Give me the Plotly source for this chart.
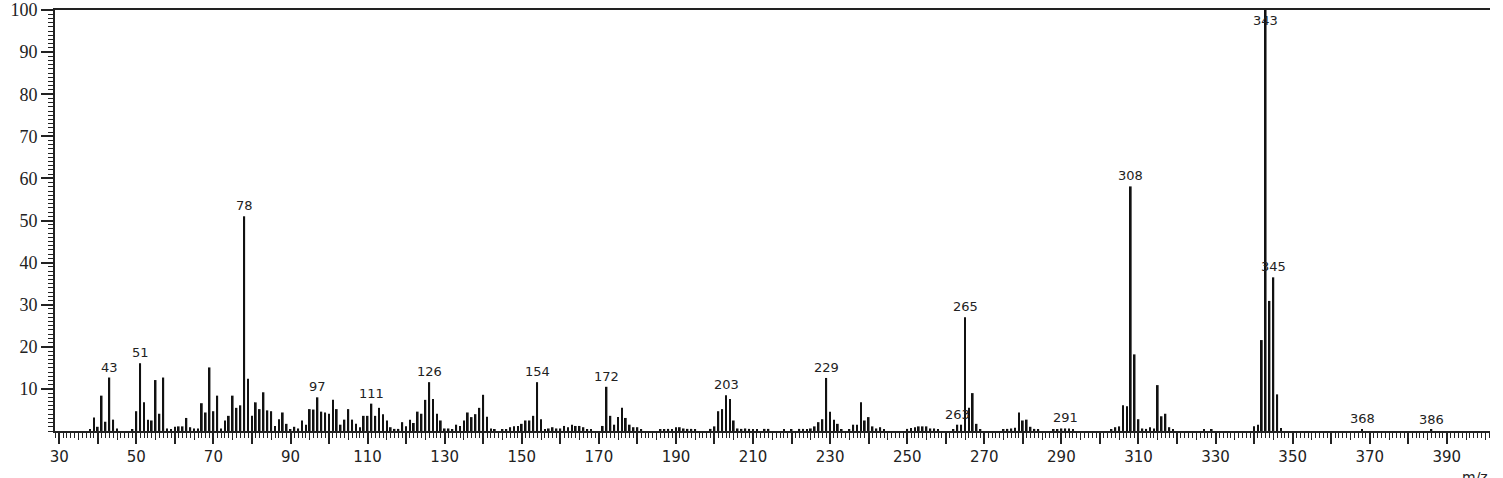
import plotly.graph_objects as go

# m/z values and relative intensity (%)
mz = [38, 39, 40, 41, 42, 43, 44, 45, 49, 50, 51, 52, 53, 54, 55, 56, 57, 58, 59, 60,
      61, 62, 63, 64, 65, 66, 67, 68, 69, 70, 71, 72, 73, 74, 75, 76, 77, 78, 79, 80,
      81, 82, 83, 84, 85, 86, 87, 88, 89, 90, 91, 92, 93, 94, 95, 96, 97, 98, 99, 100,
      101, 102, 103, 104, 105, 106, 107, 108, 109, 110, 111, 112, 113, 114, 115, 116, 117, 118, 119, 120,
      121, 122, 123, 124, 125, 126, 127, 128, 129, 130, 131, 132, 133, 134, 135, 136, 137, 138, 139, 140,
      141, 142, 143, 145, 146, 147, 148, 149, 150, 151, 152, 153, 154, 155, 156, 157, 158, 159, 160,
      161, 162, 163, 164, 165, 166, 167, 168, 171, 172, 173, 174, 175, 176, 177, 178, 179, 180,
      181, 186, 187, 188, 189, 190, 191, 192, 193, 194, 195, 199, 200,
      201, 202, 203, 204, 205, 206, 207, 208, 209, 210, 211, 213, 214, 218, 220,
      222, 223, 224, 225, 226, 227, 228, 229, 230, 231, 232, 233, 235, 236, 237, 238, 239, 240,
      241, 242, 243, 244, 250, 251, 252, 253, 254, 255, 256, 257, 258, 262, 263, 264, 265, 266, 267, 268, 269,
      275, 276, 277, 278, 279, 280, 281, 282, 283, 284, 288, 289, 290, 291, 292, 293,
      303, 304, 305, 306, 307, 308, 309, 310, 311, 312, 313, 314, 315, 316, 317, 318, 319, 327, 329,
      340, 341, 342, 343, 344, 345, 346, 347, 368, 386]
intensity = [0.4, 3.2, 1.0, 8.4, 2.2, 12.7, 2.7, 0.6, 0.3, 4.7, 16.1, 6.8, 2.7, 2.5, 12.1, 4.1, 12.7, 0.6, 0.3, 1.0,
             1.1, 1.1, 3.1, 0.9, 0.6, 0.6, 6.6, 4.4, 15.1, 4.7, 8.4, 0.6, 2.5, 3.6, 8.4, 5.5, 6.1, 51.0, 12.4, 3.6,
             6.8, 5.2, 9.2, 4.9, 4.7, 1.2, 2.8, 4.4, 1.7, 0.4, 1.0, 0.6, 2.5, 1.5, 5.2, 5.1, 8.0, 4.6, 4.4, 4.1,
             7.4, 5.2, 1.5, 2.7, 5.2, 2.7, 1.7, 0.9, 3.6, 3.6, 6.5, 3.6, 5.5, 4.0, 2.5, 0.9, 0.5, 0.5, 2.1, 1.1,
             2.7, 1.9, 4.6, 4.1, 7.4, 11.6, 7.6, 4.1, 2.5, 0.6, 0.6, 0.3, 1.5, 1.2, 2.5, 4.4, 3.3, 4.0, 5.5, 8.6,
             3.4, 0.6, 0.4, 0.4, 0.3, 0.9, 1.1, 1.2, 1.7, 2.5, 2.5, 3.6, 11.6, 2.8, 0.3, 0.6, 0.9, 0.6, 0.6,
             1.2, 0.9, 1.5, 1.2, 1.2, 0.9, 0.3, 0.3, 1.2, 10.5, 3.6, 1.5, 3.3, 5.5, 3.1, 1.5, 0.9, 0.9,
             0.3, 0.3, 0.3, 0.5, 0.5, 0.9, 0.9, 0.6, 0.5, 0.5, 0.3, 0.5, 1.1,
             4.7, 5.2, 8.5, 7.6, 2.5, 0.6, 0.5, 0.6, 0.5, 0.3, 0.3, 0.5, 0.5, 0.3, 0.3,
             0.5, 0.5, 0.5, 0.6, 1.1, 2.1, 2.8, 12.6, 4.6, 2.7, 1.7, 0.4, 0.3, 1.5, 1.5, 6.8, 2.5, 3.3,
             1.1, 0.6, 0.9, 0.3, 0.5, 0.7, 0.9, 1.1, 1.1, 1.1, 0.6, 0.6, 0.3, 0.3, 1.5, 1.5, 27.0, 5.5, 9.0, 1.7, 0.4,
             0.3, 0.5, 0.6, 0.8, 4.4, 2.5, 2.7, 1.0, 0.5, 0.3, 0.3, 0.3, 0.6, 0.6, 0.6, 0.3,
             0.3, 0.9, 1.1, 6.1, 5.9, 58.1, 18.2, 2.8, 0.6, 0.5, 0.9, 0.6, 10.9, 3.5, 4.1, 0.9, 0.3, 0.3, 0.3,
             1.1, 1.5, 21.6, 100.0, 30.9, 36.5, 8.7, 0.7, 0.5, 0.3]

# peaks that carry an m/z label
labeled_peaks = [43, 51, 78, 97, 111, 126, 154, 172, 203, 229, 263, 265, 291, 308, 343, 345, 368, 386]

x_label_vals = list(range(30, 400, 10))
x_label_text = [str(v) if (v - 30) % 20 == 0 else "" for v in x_label_vals]
y_label_vals = list(range(10, 101, 10))

lookup = dict(zip(mz, intensity))

fig = go.Figure()
fig.add_trace(go.Bar(x=mz, y=intensity, width=0.45,
                     marker=dict(color="#111111", line=dict(width=0)),
                     hoverinfo="x+y"))
# invisible trace so the second x axis (ticks every 5) is drawn
fig.add_trace(go.Scatter(x=[30, 390], y=[0, 0], xaxis="x2", mode="markers",
                         marker=dict(opacity=0), hoverinfo="skip", showlegend=False))

for p in labeled_peaks:
    h = lookup.get(p, 0.3)
    if h >= 99:
        # base peak: label sits just under the top frame
        fig.add_annotation(x=p, y=h, text=str(p), showarrow=False, yanchor="top", yshift=-1,
                           font=dict(family="DejaVu Sans", size=13, color="#222"))
    else:
        fig.add_annotation(x=p, y=h, text=str(p), showarrow=False, yanchor="bottom", yshift=1,
                           font=dict(family="DejaVu Sans", size=13, color="#222"))

fig.add_annotation(xref="paper", yref="paper", x=1.0, y=0, yshift=-36, xanchor="right", yanchor="top",
                   text="m/z", showarrow=False, font=dict(family="DejaVu Sans", size=14, color="#222"))

fig.update_layout(
    width=1503, height=478,
    margin=dict(l=55, r=13, t=10, b=47, autoexpand=False),
    plot_bgcolor="white", paper_bgcolor="white",
    showlegend=False,
    xaxis=dict(range=[28.9, 401.2], showgrid=False, zeroline=False, automargin=False,
               showline=True, linecolor="#222", linewidth=2, mirror=True,
               tickmode="array", tickvals=x_label_vals, ticktext=x_label_text,
               ticks="outside", ticklen=11, tickwidth=1.5, tickcolor="#222",
               minor=dict(dtick=1, tick0=0, ticks="outside", ticklen=5, tickwidth=1, tickcolor="#222"),
               tickfont=dict(family="DejaVu Sans", size=15, color="#222")),
    xaxis2=dict(range=[28.9, 401.2], overlaying="x", side="bottom", anchor="y", automargin=False,
                showgrid=False, zeroline=False, showline=False, showticklabels=False,
                tick0=0, dtick=5, ticks="outside", ticklen=8, tickwidth=1.2, tickcolor="#222"),
    yaxis=dict(range=[0, 100], showgrid=False, zeroline=False, automargin=False,
               showline=True, linecolor="#222", linewidth=2,
               tickmode="array", tickvals=y_label_vals,
               ticks="outside", ticklen=12, tickwidth=1.5, tickcolor="#222",
               minor=dict(dtick=1, tick0=0, ticks="outside", ticklen=5, tickwidth=1, tickcolor="#222"),
               tickfont=dict(family="Liberation Serif", size=18, color="#222")),
)

# drop the default page margin so the figure starts at the window corner
fig.write_html("out.html", config={"displayModeBar": False},
               post_script="document.body.style.margin='0';")
